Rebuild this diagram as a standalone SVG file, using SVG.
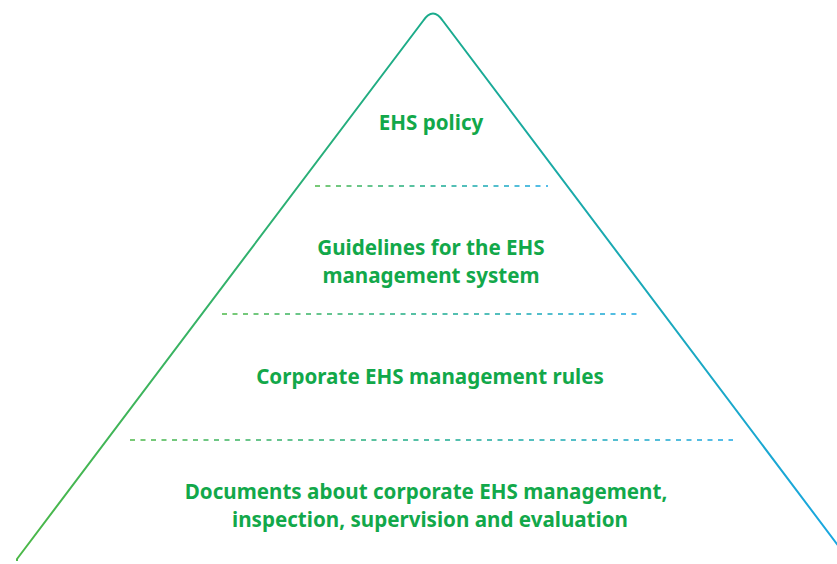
<svg xmlns="http://www.w3.org/2000/svg" width="837" height="564" viewBox="0 0 837 564">
  <defs>
    <linearGradient id="edge" gradientUnits="userSpaceOnUse" x1="17" y1="0" x2="849" y2="0">
      <stop offset="0" stop-color="#4cb848"/>
      <stop offset="0.5" stop-color="#1aab8c"/>
      <stop offset="1" stop-color="#1aa7e3"/>
    </linearGradient>
    <linearGradient id="d1" gradientUnits="userSpaceOnUse" x1="315" y1="0" x2="548" y2="0">
      <stop offset="0" stop-color="#4cb848"/>
      <stop offset="0.5" stop-color="#1aab8c"/>
      <stop offset="1" stop-color="#1aa7e3"/>
    </linearGradient>
    <linearGradient id="d2" gradientUnits="userSpaceOnUse" x1="222" y1="0" x2="641" y2="0">
      <stop offset="0" stop-color="#4cb848"/>
      <stop offset="0.5" stop-color="#1aab8c"/>
      <stop offset="1" stop-color="#1aa7e3"/>
    </linearGradient>
    <linearGradient id="d3" gradientUnits="userSpaceOnUse" x1="130" y1="0" x2="733" y2="0">
      <stop offset="0" stop-color="#4cb848"/>
      <stop offset="0.5" stop-color="#1aab8c"/>
      <stop offset="1" stop-color="#1aa7e3"/>
    </linearGradient>
  </defs>
  <style>
    .lbl { font-family: "Noto Sans", "Open Sans", "Liberation Sans", sans-serif; font-weight: bold; font-size: 20.6px; fill: #12a84a; text-anchor: middle; }
    .dash { fill: none; stroke-width: 1.6; stroke-dasharray: 5 5.5; }
  </style>
  <rect width="837" height="564" fill="#ffffff"/>
  <g id="pyramid">
    <path d="M 17 561 L 17 559 L 423 21 Q 433 6 443 21 L 849 560" fill="none" stroke="url(#edge)" stroke-width="2" stroke-linejoin="round"/>
  </g>
  <g id="connectors">
    <line class="dash" x1="315" y1="186" x2="548" y2="186" stroke="url(#d1)"/>
    <line class="dash" x1="222" y1="314" x2="641" y2="314" stroke="url(#d2)"/>
    <line class="dash" x1="130" y1="440" x2="733" y2="440" stroke="url(#d3)"/>
  </g>
  <g id="level1">
    <text class="lbl" x="431" y="130">EHS policy</text>
  </g>
  <g id="level2">
    <text class="lbl" x="431" y="255">Guidelines for the EHS</text>
    <text class="lbl" x="431" y="283">management system</text>
  </g>
  <g id="level3">
    <text class="lbl" x="430" y="384">Corporate EHS management rules</text>
  </g>
  <g id="level4">
    <text class="lbl" x="426" y="499">Documents about corporate EHS management,</text>
    <text class="lbl" x="430" y="527">inspection, supervision and evaluation</text>
  </g>
</svg>
